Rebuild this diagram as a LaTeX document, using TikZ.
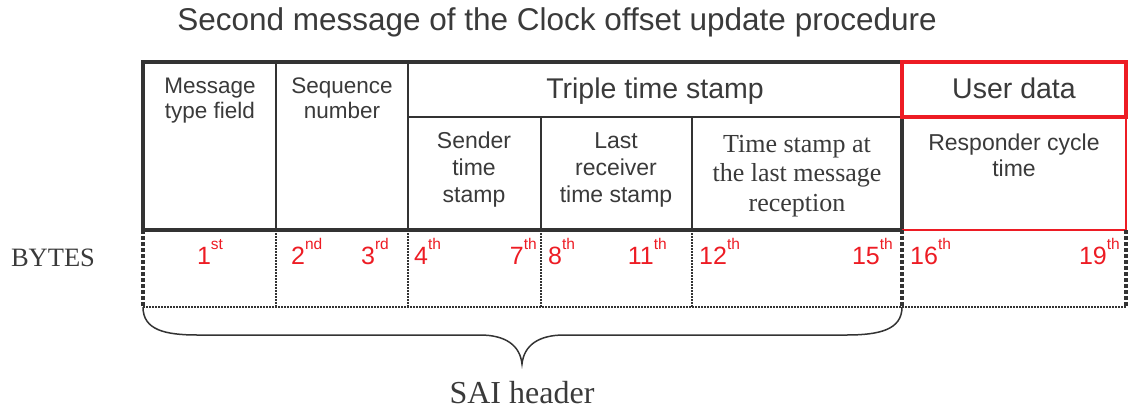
\documentclass[tikz,border=0pt]{standalone}
\usepackage{fontspec}
\setmainfont{Liberation Sans}
\newfontfamily\serf{Liberation Serif}
\definecolor{ink}{HTML}{3A3A3A}
\definecolor{lnk}{HTML}{333333}
\definecolor{rd}{HTML}{ED1C24}
\newcommand\ordn[2]{#1\raisebox{0.6em}{\fontsize{15.5}{15.5}\selectfont #2}}
\begin{document}
\begin{tikzpicture}[x=1pt,y=-1pt,
  txt/.style={text=ink, align=center, anchor=base, inner sep=0pt},
  head/.style={txt, font=\fontsize{22.5}{25.5}\selectfont},
  big/.style={txt, font=\fontsize{28.5}{30}\selectfont},
  sub/.style={txt, font=\fontsize{23}{27}\selectfont},
  ser/.style={txt, font=\serf\fontsize{26}{29.5}\selectfont},
  byt/.style={text=rd, inner sep=0pt, font=\fontsize{25}{26}\selectfont},
  frame/.style={draw=lnk, line width=3.5pt},
  inner/.style={draw=lnk, line width=2pt},
  thin/.style={draw=lnk, line width=1.5pt},
  thickdash/.style={draw=lnk, line width=3.5pt, dash pattern=on 3.5pt off 2.5pt},
  dots/.style={draw=lnk, line width=1.5pt, dash pattern=on 1.5pt off 1.5pt},
  bracepath/.style={draw=lnk, line width=1.5pt}
]
\useasboundingbox (0,0) rectangle (1128,408);

% title
\node[txt, font=\fontsize{31.5}{33}\selectfont] (title) at (557,30) {Second message of the Clock offset update procedure};

% key coordinates
\coordinate (tl) at (143,62);
\coordinate (tr) at (902,62);
\coordinate (bl) at (143,230);
\coordinate (br) at (902,230);
\coordinate (ml) at (408,117);
\coordinate (mr) at (902,117);
\coordinate (ubr) at (1126,230);
\coordinate (umr) at (1126,117);
\coordinate (utr) at (1126,62);
\coordinate (dbl) at (143,307);
\coordinate (dbr) at (902,307);
\coordinate (dbe) at (1126,307);

% main black frame
\draw[frame] (tr) -- (tl) -- (bl) -- (br) -- (mr);
\draw[inner] (276,62) -- (276,230);
\draw[inner] (408,62) -- (408,230);
\draw[inner] (ml) -- (mr);
\draw[thin] (541,117) -- (541,230);
\draw[thin] (692,117) -- (692,230);

% user data
\draw[rd, line width=1.2pt] (br) -- (ubr) -- (umr);
\draw[rd, line width=3.5pt] (tr) rectangle (umr);

% bytes row
\draw[dots] (dbl) -- (dbe);
\draw[dots] (276,230) -- (276,307);
\draw[dots] (408,230) -- (408,307);
\draw[dots] (541,230) -- (541,307);
\draw[dots] (692,230) -- (692,307);
\draw[thickdash] (bl) -- (dbl);
\draw[thickdash] (br) -- (dbr);
\draw[thickdash] (ubr) -- (dbe);

% field texts (base anchor = last line's baseline)
\node[head] (mtf) at (210,118.5) {Message\\type field};
\node[head] (seq) at (342,118.5) {Sequence\\number};
\node[big] (tts) at (655,98) {Triple time stamp};
\node[big] (ud) at (1014,98) {User data};
\node[sub] (snd) at (474,202) {Sender\\time\\stamp};
\node[sub] (lrt) at (616,202) {Last\\receiver\\time stamp};
\node[ser] (tsl) at (797,211) {Time stamp at\\the last message\\reception};
\node[sub, font=\fontsize{23}{26}\selectfont] (rct) at (1014,176) {Responder cycle\\time};

% bytes labels
\node[txt, font=\serf\fontsize{26.5}{28}\selectfont] (bytes) at (53,266) {BYTES};
\node[byt, anchor=base] (b1) at (210,264) {\ordn{1}{st}};
\node[byt, anchor=base west] (b2) at (291,264) {\ordn{2}{nd}};
\node[byt, anchor=base east] (b3) at (389,264) {\ordn{3}{rd}};
\node[byt, anchor=base west] (b4) at (414,264) {\ordn{4}{th}};
\node[byt, anchor=base east] (b7) at (537,264) {\ordn{7}{th}};
\node[byt, anchor=base west] (b8) at (548,264) {\ordn{8}{th}};
\node[byt, anchor=base east] (b11) at (667,264) {\ordn{11}{th}};
\node[byt, anchor=base west] (b12) at (699,264) {\ordn{12}{th}};
\node[byt, anchor=base east] (b15) at (893,264) {\ordn{15}{th}};
\node[byt, anchor=base west] (b16) at (910,264) {\ordn{16}{th}};
\node[byt, anchor=base east] (b19) at (1120,264) {\ordn{19}{th}};

% brace
\coordinate (tip) at (522,364);
\draw[bracepath] (dbl) .. controls (143,330) and (165,335) .. (198,335) -- (480,335)
  .. controls (505,335) and (520,345) .. (tip)
  .. controls (524,345) and (539,335) .. (564,335) -- (846,335)
  .. controls (879,335) and (902,330) .. (dbr);
\node[txt, font=\serf\fontsize{32}{34}\selectfont] (sai) at (522,403) {SAI header};
\end{tikzpicture}
\end{document}
